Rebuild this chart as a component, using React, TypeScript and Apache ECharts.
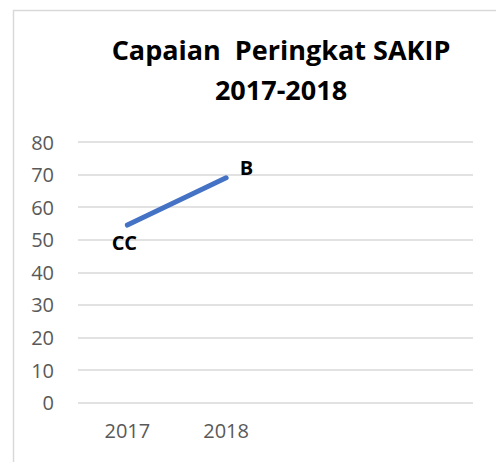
import React, { useEffect, useRef } from "react";
import * as echarts from "echarts";

const titleLines = ["Capaian  Peringkat SAKIP", "2017-2018"];
const categories = ["2017", "2018", "", ""];
const values: (number | null)[] = [54.5, 69, null, null];
const pointLabels = ["CC", "B"];
const yTicks = { min: 0, max: 80, interval: 10 };

const FONT = "'Open Sans', 'Noto Sans', sans-serif";

export default function App() {
  const ref = useRef<HTMLDivElement>(null);
  useEffect(() => {
    if (!ref.current) return;
    const chart = echarts.init(ref.current, null, { renderer: "svg" });
    const labelPos = [
      { position: "bottom", offset: [-3, 0] },
      { position: "right", offset: [6, -10] },
    ];
    chart.setOption({
      animation: false,
      backgroundColor: "#ffffff",
      textStyle: { fontFamily: FONT },
      graphic: [
        {
          type: "rect",
          shape: { x: 13.5, y: 10.5, width: 600, height: 600 },
          style: { fill: "none", stroke: "#d9d9d9", lineWidth: 1.5 },
          silent: true,
        },
        {
          type: "text",
          x: 281,
          y: 29,
          style: {
            text: titleLines.join("\n"),
            fill: "#000000",
            font: `bold 27px ${FONT}`,
            lineHeight: 40,
            textAlign: "center",
            textVerticalAlign: "top",
          },
        },
      ],
      grid: { left: 78, right: 23, top: 142, bottom: 59.3, containLabel: false },
      xAxis: {
        type: "category",
        data: categories,
        boundaryGap: true,
        axisLine: { show: false },
        axisTick: { show: false },
        axisLabel: { color: "#595959", fontSize: 20, margin: 18, fontFamily: FONT },
        splitLine: { show: false },
      },
      yAxis: {
        type: "value",
        min: yTicks.min,
        max: yTicks.max,
        interval: yTicks.interval,
        axisLine: { show: false },
        axisTick: { show: false },
        axisLabel: { color: "#595959", fontSize: 20, margin: 24, fontFamily: FONT },
        splitLine: { lineStyle: { color: "#d9d9d9", width: 1.5 } },
      },
      series: [
        {
          type: "line",
          data: values.map((v, i) =>
            v === null
              ? null
              : {
                  value: v,
                  label: {
                    show: true,
                    formatter: pointLabels[i],
                    position: labelPos[i].position,
                    offset: labelPos[i].offset,
                    distance: 6,
                    color: "#000000",
                    fontWeight: "bold",
                    fontSize: 20,
                    fontFamily: FONT,
                  },
                }
          ),
          showSymbol: true,
          symbol: "circle",
          symbolSize: 3,
          itemStyle: { color: "#4472C4" },
          lineStyle: { color: "#4472C4", width: 5, cap: "round" },
          connectNulls: false,
          label: { show: true },
        },
      ],
    });
    return () => chart.dispose();
  }, []);
  return (
    <div
      ref={ref}
      style={{ position: "fixed", left: 0, top: 0, width: 496, height: 462 }}
    />
  );
}
